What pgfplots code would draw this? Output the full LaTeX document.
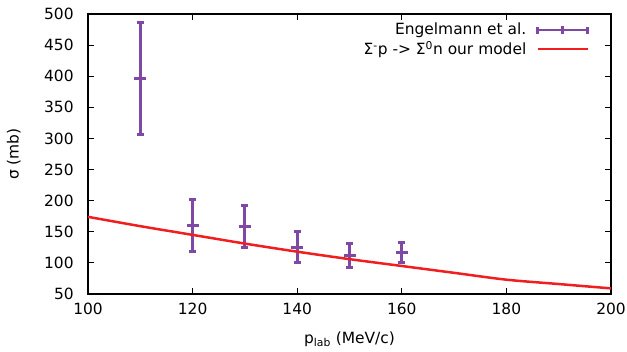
\documentclass[border=0pt]{standalone}
\usepackage{pgfplots}
\pgfplotsset{compat=1.18}
\usepackage{fontspec}
\setmainfont{DejaVu Sans}
\definecolor{engp}{RGB}{126,72,164}
\definecolor{modr}{RGB}{240,30,30}
\newcommand{\lf}{\fontsize{15.5}{18}\selectfont}
\begin{document}
\lf
\begin{tikzpicture}
\begin{axis}[
  scale only axis,
  width=523bp, height=280bp,
  xmin=100, xmax=200, ymin=50, ymax=500,
  xtick={100,120,...,200}, ytick={50,100,...,500},
  tick align=inside, major tick length=6bp,
  tick style={line width=1bp,black},
  axis line style={line width=1.2bp},
  /pgf/number format/assume math mode=true,
  tick label style={font=\lf},
  yticklabel style={xshift=-9bp},
  xticklabel style={yshift=-4bp},
  xlabel={p\textsubscript{lab} (MeV/c)},
  ylabel={σ (mb)},
  label style={font=\lf},
  xlabel style={at={(axis description cs:0.5,-0.161)}, anchor=center},
  ylabel style={at={(axis description cs:-0.142,0.5)}, anchor=center},
  legend style={draw=none, fill=none, inner sep=0pt, at={(0.958,0.975)}, anchor=north east,
    legend cell align=right, font=\lf, row sep=0bp},
  legend plot pos=right,
]
\addplot[engp, only marks, forget plot, line width=3bp, mark=-, mark size=6bp,
  mark options={line width=3bp},
  error bars/.cd, y dir=both, y explicit,
  error bar style={line width=3bp, engp, solid},
  error mark options={rotate=90, mark size=3.5bp, line width=3bp, engp},
  ]
  table[x=x, y=y, y error=e] {
x y e
110 396 90
120 160 42
130 158 34
140 125 25
150 112 19
160 116 16
};
\addplot[modr, line width=2.5bp, smooth, no marks, forget plot] table {
100 174
110 159
120 145
130 131
140 118
150 106
160 95
170 84
180 73
190 66
200 59
};
\addlegendimage{legend image code/.code={
  \draw[engp, line width=2.5bp] (0bp,0bp) -- (50bp,0bp);
  \draw[engp, line width=2.5bp] (0bp,-3.5bp) -- (0bp,3.5bp);
  \draw[engp, line width=2.5bp] (50bp,-3.5bp) -- (50bp,3.5bp);
  \draw[engp, line width=2.5bp] (25bp,-4bp) -- (25bp,4bp);}}
\addlegendentry{Engelmann et al.\hspace*{8bp}}
\addlegendimage{legend image code/.code={\draw[modr, line width=2.5bp] (0bp,0bp) -- (50bp,0bp);}}
\addlegendentry{Σ\textsuperscript{-}p -> Σ\textsuperscript{0}n our model\hspace*{8bp}}
\end{axis}
\pgfresetboundingbox
\useasboundingbox ([shift={(-88bp,-58bp)}]current axis.south west) rectangle ([shift={(16bp,14bp)}]current axis.north east);
\end{tikzpicture}
\end{document}
